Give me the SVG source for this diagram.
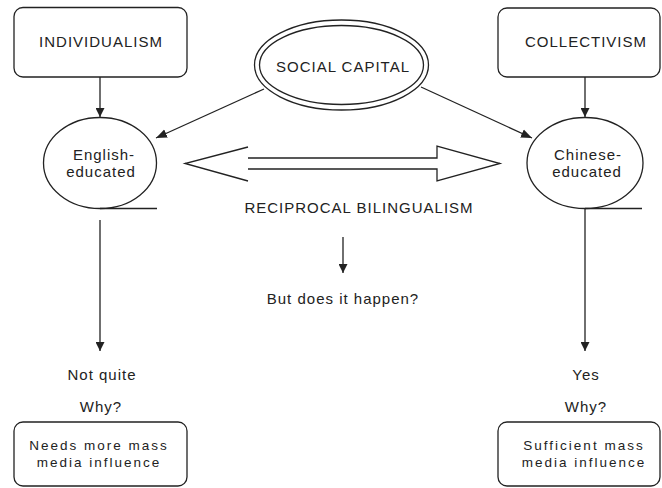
<svg xmlns="http://www.w3.org/2000/svg" width="662" height="488" viewBox="0 0 662 488">
<defs>
<style>
.box{fill:#fff;stroke:#222;stroke-width:1.3}
.ln{fill:none;stroke:#222;stroke-width:1.3}
.t{font-family:"Liberation Sans",Arial,sans-serif;font-size:15px;fill:#222;text-anchor:middle;letter-spacing:1px}
.s{font-size:13.5px;letter-spacing:2px}
</style>
<marker id="ah" viewBox="0 0 10 10" refX="10" refY="5" markerWidth="9" markerHeight="9" markerUnits="userSpaceOnUse" orient="auto">
<path d="M0,0 L10,5 L0,10 Z" fill="#222"/>
</marker>
<marker id="ah2" viewBox="0 0 10 10" refX="10" refY="5" markerWidth="11" markerHeight="11" markerUnits="userSpaceOnUse" orient="auto">
<path d="M0,1 L10,5 L0,9 Z" fill="#222"/>
</marker>
</defs>
<rect width="662" height="488" fill="#fff"/>

<g id="individualism">
<rect class="box" x="14" y="7.5" width="173" height="69.5" rx="9"/>
<text class="t" x="101" y="47">INDIVIDUALISM</text>
</g>
<g id="collectivism">
<rect class="box" x="498" y="8" width="162" height="69" rx="9"/>
<text class="t" x="586" y="47">COLLECTIVISM</text>
</g>
<g id="social-capital">
<ellipse class="box" cx="341.5" cy="65" rx="87" ry="45"/>
<ellipse class="ln" cx="341.5" cy="65" rx="82" ry="39.5"/>
<text class="t" x="343" y="72">SOCIAL CAPITAL</text>
</g>
<g id="english-educated">
<ellipse class="box" cx="100" cy="163" rx="56.5" ry="45.5"/>
<line class="ln" x1="100" y1="208.5" x2="157" y2="208.5"/>
<text class="t" x="104" y="160">English-</text>
<text class="t" x="101" y="177">educated</text>
</g>
<g id="chinese-educated">
<ellipse class="box" cx="585" cy="163" rx="58" ry="45.5"/>
<line class="ln" x1="585" y1="208.5" x2="642" y2="208.5"/>
<text class="t" x="588" y="160">Chinese-</text>
<text class="t" x="587" y="177">educated</text>
</g>
<g id="reciprocal-bilingualism">
<path class="ln" d="M248,147 L185,163.5 L248,181 M248,158 L437,158 L437,146 L500,163.5 L437,181 L437,169 L248,169"/>
<text class="t" x="359" y="213">RECIPROCAL BILINGUALISM</text>
</g>
<g id="question">
<text class="t" x="343" y="304">But does it happen?</text>
</g>
<g id="not-quite">
<text class="t" x="102" y="380">Not quite</text>
<text class="t" x="101" y="412">Why?</text>
</g>
<g id="yes">
<text class="t" x="586" y="380">Yes</text>
<text class="t" x="586" y="412">Why?</text>
</g>
<g id="needs-more">
<rect class="box" x="14" y="422" width="173" height="64" rx="9"/>
<text class="t s" x="99" y="450">Needs more mass</text>
<text class="t s" x="99" y="466.5">media influence</text>
</g>
<g id="sufficient">
<rect class="box" x="498" y="422" width="162" height="64" rx="9"/>
<text class="t s" x="584" y="450">Sufficient mass</text>
<text class="t s" x="584" y="466.5">media influence</text>
</g>

<g id="connectors">
<line class="ln" x1="100" y1="77" x2="100" y2="117" marker-end="url(#ah)"/>
<line class="ln" x1="585" y1="77" x2="585" y2="117" marker-end="url(#ah)"/>
<line class="ln" x1="264" y1="89" x2="156" y2="138" marker-end="url(#ah2)"/>
<line class="ln" x1="421" y1="87" x2="532" y2="138" marker-end="url(#ah2)"/>
<line class="ln" x1="100" y1="220" x2="100" y2="351" marker-end="url(#ah)"/>
<line class="ln" x1="585" y1="209" x2="585" y2="351" marker-end="url(#ah)"/>
<line class="ln" x1="343" y1="237" x2="343" y2="273" marker-end="url(#ah)"/>
</g>
</svg>
